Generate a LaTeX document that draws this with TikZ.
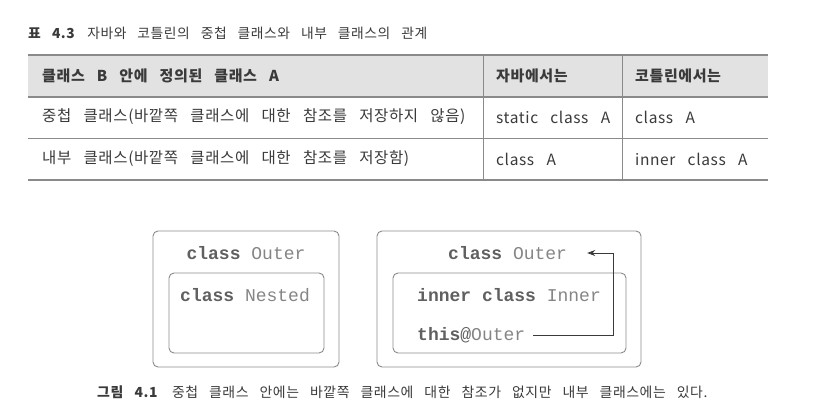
\documentclass[tikz,border=0pt]{standalone}
\usepackage{fontspec}
\setmainfont{Noto Sans CJK KR}[WordSpace=3.0,LetterSpace=4]
\newfontfamily\codefont{Liberation Mono}
\usetikzlibrary{arrows.meta}
\definecolor{txt}{HTML}{3A3A3A}
\definecolor{rule}{HTML}{8A8A8A}
\definecolor{hdr}{HTML}{E2E2E2}
\definecolor{kw}{HTML}{606060}
\definecolor{idn}{HTML}{858585}
\tikzset{
  cell/.style={anchor=west,inner sep=0pt,text=txt,font=\fontsize{15.5}{18}\selectfont},
  hcell/.style={cell,font=\fontsize{15}{18}\selectfont\bfseries},
  code/.style={anchor=west,inner sep=0pt,text=kw,font=\codefont\fontsize{18}{20}\selectfont},
  box/.style={draw=rule,line width=0.9pt,rounded corners=5pt,inner sep=0pt},
  tline/.style={draw=rule,line width=0.8pt},
  arr/.style={draw=txt,line width=0.8pt,-{Stealth[length=8pt,width=6pt]}}
}
\newcommand{\kwd}[1]{\textbf{#1}}
\newcommand{\idt}[1]{\textcolor{idn}{#1}}
\begin{document}
\begin{tikzpicture}[x=1pt,y=-1pt]
\useasboundingbox (0,0) rectangle (827,410);
% title
\node[anchor=west,inner sep=0pt,text=txt,font=\fontsize{13.8}{15}\selectfont] (title) at (28,33) {\textbf{표 4.3}\hspace{12pt}자바와 코틀린의 중첩 클래스와 내부 클래스의 관계};
% table
\fill[hdr] (28,55) rectangle (768,97);
\draw[tline,line width=1.1pt] (28,55) -- (768,55);
\draw[tline,line width=1.1pt] (28,97) -- (768,97);
\draw[tline] (28,138) -- (768,138);
\draw[tline,line width=1.1pt] (28,180) -- (768,180);
\draw[tline] (483,55) -- (483,180);
\draw[tline] (622,55) -- (622,180);
\node[hcell] (h1) at (42,76) {클래스 B 안에 정의된 클래스 A};
\node[hcell] (h2) at (496,76) {자바에서는};
\node[hcell] (h3) at (635,76) {코틀린에서는};
\node[cell] (r11) at (42,117) {중첩 클래스(바깥쪽 클래스에 대한 참조를 저장하지 않음)};
\node[cell] (r12) at (496,117) {static class A};
\node[cell] (r13) at (635,117) {class A};
\node[cell] (r21) at (42,159) {내부 클래스(바깥쪽 클래스에 대한 참조를 저장함)};
\node[cell] (r22) at (496,159) {class A};
\node[cell] (r23) at (635,159) {inner class A};
% left diagram
\node[box,minimum width=186pt,minimum height=136pt] (lout) at (246,299) {};
\node[box,minimum width=155pt,minimum height=80pt] (lin) at (246.5,313) {};
\node[code,anchor=center] (lcls) at (246,253) {\kwd{class} \idt{Outer}};
\node[code] (lnest) at (180,295) {\kwd{class} \idt{Nested}};
% right diagram
\node[box,minimum width=264pt,minimum height=136pt] (rout) at (509,299) {};
\node[box,minimum width=233pt,minimum height=80pt] (rin) at (509.5,313) {};
\node[code] (rcls) at (448,253) {\kwd{class} \idt{Outer}};
\node[code] (rinner) at (417,295) {\kwd{inner class} \idt{Inner}};
\node[code] (rthis) at (417,335) {\kwd{this}@\idt{Outer}};
\coordinate (turn) at (613,253);
\draw[arr] ([xshift=8pt]rthis.east) -| (turn) -- ([xshift=20pt]rcls.east);
% caption
\node[anchor=west,inner sep=0pt,text=txt,font=\fontsize{13.9}{15}\selectfont] (cap) at (97,392) {\textbf{그림 4.1}\hspace{14pt}중첩 클래스 안에는 바깥쪽 클래스에 대한 참조가 없지만 내부 클래스에는 있다.};
\end{tikzpicture}
\end{document}
